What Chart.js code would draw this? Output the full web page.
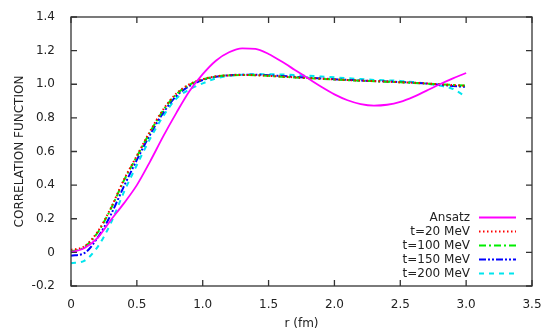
<!DOCTYPE html>
<html>
<head>
<meta charset="utf-8">
<script src="https://cdn.jsdelivr.net/npm/chart.js@4/dist/chart.umd.min.js"></script>
<style>
  body { margin: 0; background: #fff; }
  #wrap { width: 550px; height: 335px; }
</style>
</head>
<body>
<div id="wrap"><canvas id="corr"></canvas></div>
<script>
var rValues = [0, 0.1, 0.2, 0.3, 0.4, 0.5, 0.6, 0.7, 0.8, 0.9, 1.0, 1.1, 1.2, 1.3, 1.4, 1.5,
               1.6, 1.7, 1.8, 1.9, 2.0, 2.1, 2.2, 2.3, 2.4, 2.5, 2.6, 2.7, 2.8, 2.9, 3.0];

var ansatz = [0, 0.025, 0.085, 0.19, 0.29, 0.40, 0.54, 0.69, 0.83, 0.96, 1.06, 1.14, 1.19, 1.213, 1.21, 1.18,
              1.135, 1.085, 1.035, 0.985, 0.94, 0.905, 0.882, 0.873, 0.878, 0.895, 0.925, 0.962, 1.0, 1.035, 1.067];
var t20 = [0.015, 0.035, 0.12, 0.26, 0.43, 0.575, 0.72, 0.85, 0.945, 1.0, 1.03, 1.047, 1.053, 1.055, 1.054, 1.05,
           1.046, 1.041, 1.037, 1.033, 1.029, 1.025, 1.022, 1.019, 1.016, 1.012, 1.009, 1.005, 1.0, 0.995, 0.99];
var t100 = [0.005, 0.03, 0.115, 0.255, 0.425, 0.57, 0.715, 0.845, 0.94, 0.997, 1.028, 1.046, 1.053, 1.055, 1.054, 1.05,
            1.045, 1.04, 1.036, 1.032, 1.028, 1.024, 1.021, 1.018, 1.015, 1.012, 1.008, 1.004, 1.0, 0.996, 0.992];
var t150 = [-0.02, -0.005, 0.085, 0.22, 0.39, 0.55, 0.70, 0.83, 0.93, 0.99, 1.025, 1.045, 1.053, 1.057, 1.057, 1.054,
            1.049, 1.044, 1.039, 1.034, 1.03, 1.026, 1.022, 1.019, 1.016, 1.013, 1.009, 1.004, 0.997, 0.99, 0.984];
var t200 = [-0.065, -0.05, 0.03, 0.17, 0.355, 0.52, 0.675, 0.81, 0.915, 0.97, 1.005, 1.035, 1.05, 1.056, 1.06, 1.06,
            1.058, 1.055, 1.051, 1.046, 1.041, 1.036, 1.031, 1.026, 1.023, 1.02, 1.013, 1.004, 0.992, 0.972, 0.925];

var seriesNames = ['Ansatz', 't=20 MeV', 't=100 MeV', 't=150 MeV', 't=200 MeV'];
var seriesColors = ['#ff00ff', '#ff0000', '#00ee00', '#0000ff', '#00e5ee'];
var seriesDashes = [[], [1.5, 2.5], [7, 3, 2, 3], [7, 2, 2, 2, 2, 2], [5, 5]];

var xTicks = [0, 0.5, 1, 1.5, 2, 2.5, 3, 3.5];
var yTicks = [-0.2, 0, 0.2, 0.4, 0.6, 0.8, 1, 1.2, 1.4];

function toPoints(ys) {
  return ys.map(function(y, i) { return { x: rValues[i], y: y }; });
}

var allSeries = [ansatz, t20, t100, t150, t200];
var datasets = allSeries.map(function(ys, i) {
  return {
    label: seriesNames[i],
    data: toPoints(ys),
    borderColor: seriesColors[i],
    borderDash: seriesDashes[i],
    borderWidth: i == 0 ? 1.8 : 2,
    pointRadius: 0,
    fill: false,
    cubicInterpolationMode: 'monotone'
  };
});

// gnuplot style frame, inward ticks and the key inside the plot
var framePlugin = {
  id: 'frame',
  afterDraw: function(chart) {
    var ctx = chart.ctx;
    var a = chart.chartArea;
    var xs = chart.scales.x, ys = chart.scales.y;
    ctx.save();
    ctx.strokeStyle = '#333';
    ctx.lineWidth = 1.3;
    ctx.strokeRect(a.left, a.top, a.right - a.left, a.bottom - a.top);
    ctx.beginPath();
    xTicks.forEach(function(v) {
      var px = xs.getPixelForValue(v);
      ctx.moveTo(px, a.bottom); ctx.lineTo(px, a.bottom - 6);
      ctx.moveTo(px, a.top); ctx.lineTo(px, a.top + 6);
    });
    yTicks.forEach(function(v) {
      var py = ys.getPixelForValue(v);
      ctx.moveTo(a.left, py); ctx.lineTo(a.left + 6, py);
      ctx.moveTo(a.right, py); ctx.lineTo(a.right - 6, py);
    });
    ctx.stroke();

    // key
    ctx.font = '12px "DejaVu Sans"';
    ctx.textAlign = 'right';
    ctx.textBaseline = 'middle';
    chart.data.datasets.forEach(function(ds, i) {
      var y = 217.5 + i * 14;
      ctx.fillStyle = '#222';
      ctx.fillText(ds.label, 470, y);
      ctx.strokeStyle = ds.borderColor;
      ctx.lineWidth = ds.borderWidth;
      ctx.setLineDash(ds.borderDash);
      ctx.beginPath();
      ctx.moveTo(479, y); ctx.lineTo(516, y);
      ctx.stroke();
      ctx.setLineDash([]);
    });
    ctx.restore();
  }
};

var ctx = document.getElementById('corr');
var myChart = new Chart(ctx, {
  type: 'line',
  data: { datasets: datasets },
  options: {
    responsive: true,
    maintainAspectRatio: false,
    animation: false,
    layout: { padding: { left: 0, right: 18, top: 17, bottom: 0 } },
    plugins: { legend: { display: false }, tooltip: { enabled: false } },
    scales: {
      x: {
        type: 'linear',
        min: 0, max: 3.5,
        afterBuildTicks: function(s) { s.ticks = xTicks.map(function(v) { return { value: v }; }); },
        afterFit: function(s) { s.height = 49; },
        grid: { display: false },
        border: { display: false },
        ticks: { color: '#222', font: { family: 'DejaVu Sans', size: 12 }, padding: 4, maxRotation: 0 },
        title: { display: true, text: 'r (fm)', color: '#222', font: { family: 'DejaVu Sans', size: 12 }, padding: { top: 4, bottom: 4 } }
      },
      y: {
        min: -0.2, max: 1.4,
        afterBuildTicks: function(s) { s.ticks = yTicks.map(function(v) { return { value: v }; }); },
        afterFit: function(s) { s.width = 71; },
        grid: { display: false },
        border: { display: false },
        ticks: { color: '#222', font: { family: 'DejaVu Sans', size: 12 }, padding: 8 },
        title: { display: true, text: 'CORRELATION FUNCTION', color: '#222', font: { family: 'DejaVu Sans', size: 12 }, padding: { top: 13, bottom: 0 } }
      }
    }
  },
  plugins: [framePlugin]
});
</script>
</body>
</html>
